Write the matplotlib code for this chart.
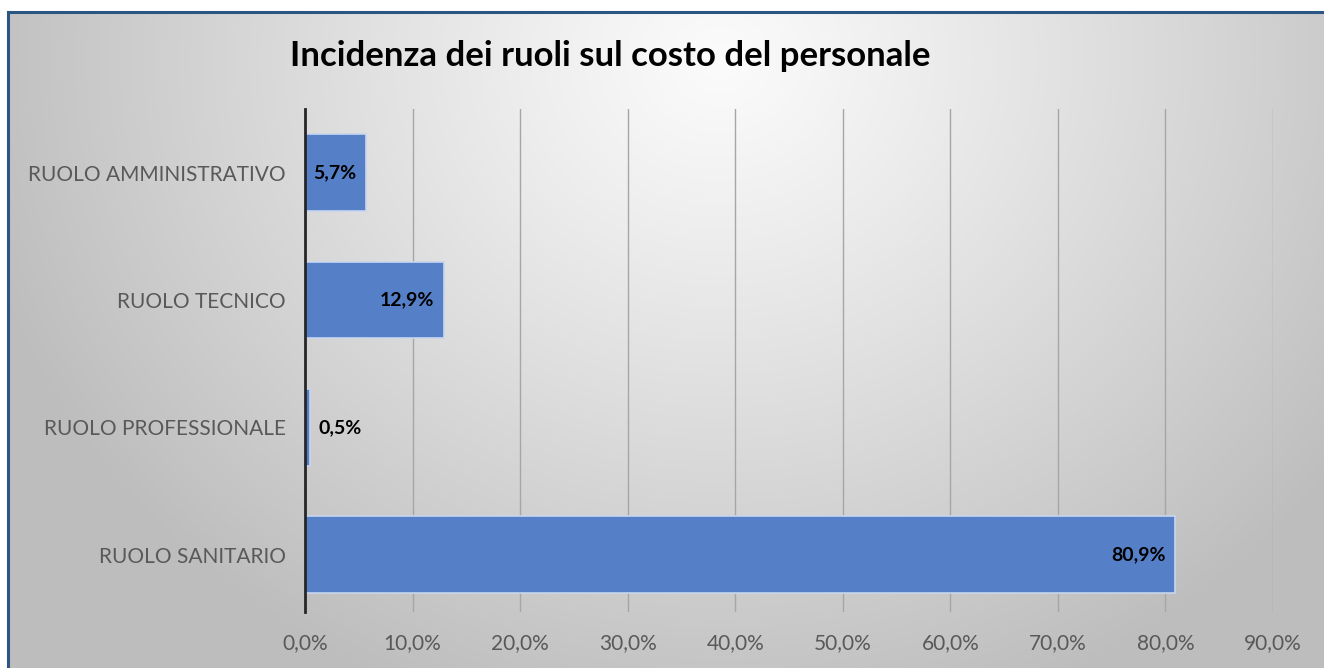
import numpy as np
import matplotlib
matplotlib.use("Agg")
import matplotlib.pyplot as plt
from matplotlib.lines import Line2D

categories = ["RUOLO SANITARIO", "RUOLO PROFESSIONALE", "RUOLO TECNICO", "RUOLO AMMINISTRATIVO"]
values = [80.9, 0.5, 12.9, 5.7]
labels = ["80,9%", "0,5%", "12,9%", "5,7%"]
xticks = [0, 10, 20, 30, 40, 50, 60, 70, 80, 90]
xticklabels = ["0,0%", "10,0%", "20,0%", "30,0%", "40,0%", "50,0%", "60,0%", "70,0%", "80,0%", "90,0%"]
title = "Incidenza dei ruoli sul costo del personale"

W, H = 1324, 668
fig = plt.figure(figsize=(W / 100, H / 100), dpi=100)

# background radial gradient
bg = fig.add_axes([0, 0, 1, 1], zorder=-10)
yy, xx = np.mgrid[0:H, 0:W]
cx, cy = 720, 60
d = np.sqrt(((xx - cx) / 760.0) ** 2 + ((yy - cy) / 680.0) ** 2)
d = np.clip(d, 0, 1)
val = 0.985 - 0.24 * d ** 1.1
img = np.dstack([val, val, val])
bg.imshow(img, aspect="auto", extent=[0, W, H, 0])
bg.set_xlim(0, W)
bg.set_ylim(H, 0)
bg.axis("off")
# white outside border
bg.fill_between([0, W], 0, 11, color="white", zorder=1)
bg.fill_between([0, 7], 0, H, color="white", zorder=1)
bg.add_line(Line2D([8, W], [12, 12], color="#2B5582", lw=2.2, zorder=2))
bg.add_line(Line2D([8, 8], [12, H], color="#2B5582", lw=2.2, zorder=2))

left = 305 / W
right = 1273 / W
bottom = 1 - 612 / H
top = 1 - 109 / H
ax = fig.add_axes([left, bottom, right - left, top - bottom])
ax.patch.set_alpha(0)

y = np.arange(len(categories))
ax.barh(y, values, height=0.6, color="#5580C8", edgecolor="#C9D6EE", linewidth=1.2, zorder=3)

fs = 15
ax.set_xlim(0, 90)
ax.set_ylim(-0.45, 3.5)
ax.set_xticks(xticks)
ax.set_xticklabels(xticklabels, fontsize=fs, color="#595959", family="Lato")
ax.set_yticks(y)
ax.set_yticklabels(categories, fontsize=fs, color="#595959", family="Lato")
ax.tick_params(axis="y", length=0, pad=14)
ax.tick_params(axis="x", length=0, pad=15)
ax.grid(axis="x", color="#A6A6A6", lw=1, zorder=1)
for s in ["top", "right", "bottom"]:
    ax.spines[s].set_visible(False)
ax.spines["left"].set_color("#262626")
ax.spines["left"].set_linewidth(2)
ax.spines["left"].set_zorder(5)

vfs = 14
for yi, v, lab in zip(y, values, labels):
    if v < 3:
        ax.annotate(lab, (v, yi), xytext=(6, 0), textcoords="offset points",
                    ha="left", va="center", fontsize=vfs, fontweight="bold",
                    family="Lato", color="black", zorder=6)
    else:
        ax.annotate(lab, (v, yi), xytext=(-7, 0), textcoords="offset points",
                    ha="right", va="center", fontsize=vfs, fontweight="bold",
                    family="Lato", color="black", zorder=6)

fig.text(610 / W, 1 - 56 / H, title, ha="center", va="center",
         fontsize=25, fontweight="bold", family="Lato", color="black")

fig.savefig("out.png", dpi=100)
